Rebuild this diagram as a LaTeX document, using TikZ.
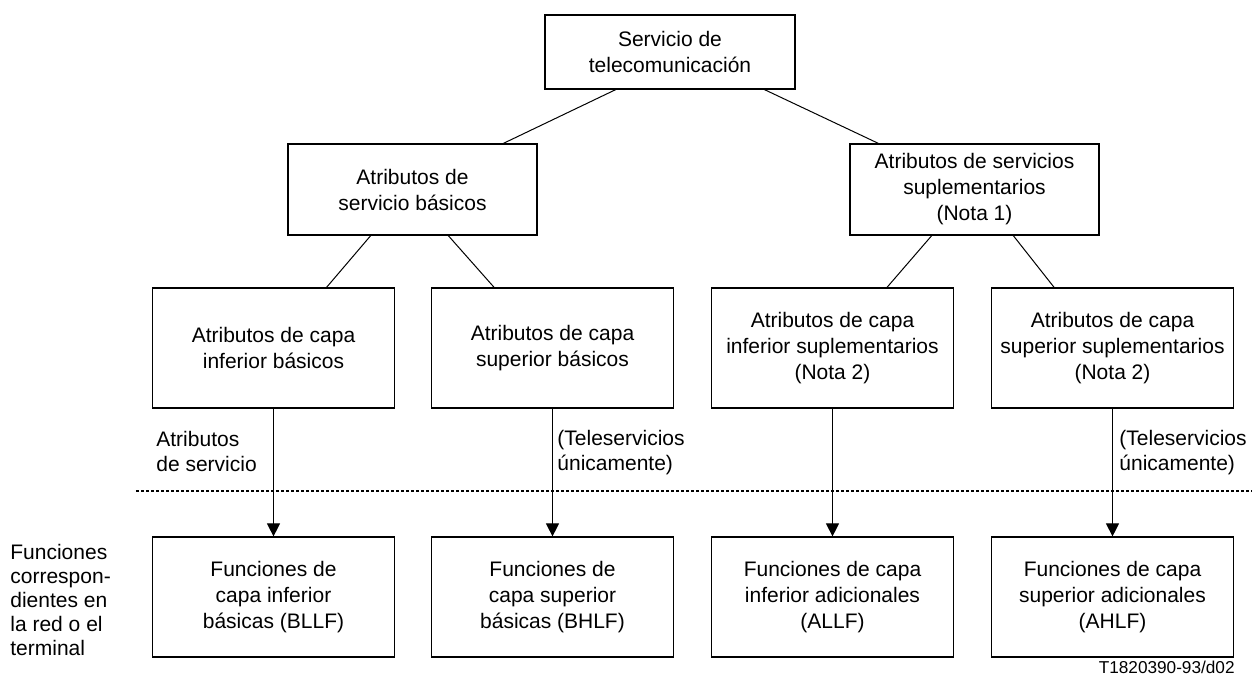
\documentclass[tikz,border=0pt]{standalone}
\usepackage{fontspec}
\setmainfont{Liberation Sans}
\usetikzlibrary{arrows.meta,calc}
\begin{document}
\begin{tikzpicture}[x=0.5pt,y=-0.5pt,
  box/.style={draw,line width=0.6pt,align=center,inner sep=0pt,font=\fontsize{10.5}{13}\selectfont},
  topbox/.style={box,minimum width=125pt,minimum height=37pt},
  midbox/.style={box,minimum width=124.5pt,minimum height=45.5pt},
  rowbox/.style={box,minimum width=121pt,minimum height=60pt},
  conn/.style={line width=0.5pt},
  arr/.style={line width=0.5pt,-{Triangle[length=6.5pt,width=6.5pt]}},
  lbl/.style={align=left,inner sep=0pt,font=\fontsize{10.5}{12.5}\selectfont},
  dotline/.style={line width=1.4pt,dash pattern=on 1.4pt off 1.1pt}]
\useasboundingbox (0,0) rectangle (1258,675);

\node[topbox] (top) at (670,52) {Servicio de\\telecomunicación};
\node[midbox] (ml) at (412.5,189.5) {Atributos de\\servicio básicos};
\node[midbox] (mr) at (974.5,189.5) {Atributos de servicios\\suplementarios\\(Nota 1)};

\node[rowbox] (r1) at (273.5,348) {Atributos de capa\\inferior básicos};
\node[rowbox] (r2) at (552.5,348) {Atributos de capa\\superior básicos};
\node[rowbox] (r3) at (832.5,348) {Atributos de capa\\inferior suplementarios\\(Nota 2)};
\node[rowbox] (r4) at (1112.5,348) {Atributos de capa\\superior suplementarios\\(Nota 2)};

\node[rowbox] (b1) at (273.5,597) {Funciones de\\capa inferior\\básicas (BLLF)};
\node[rowbox] (b2) at (552.5,597) {Funciones de\\capa superior\\básicas (BHLF)};
\node[rowbox] (b3) at (832.5,597) {Funciones de capa\\inferior adicionales\\(ALLF)};
\node[rowbox] (b4) at (1112.5,597) {Funciones de capa\\superior adicionales\\(AHLF)};

\draw[conn] ($(top.south west)!0.284!(top.south east)$) -- ($(ml.north west)!0.863!(ml.north east)$);
\draw[conn] ($(top.south west)!0.876!(top.south east)$) -- ($(mr.north west)!0.116!(mr.north east)$);
\draw[conn] ($(ml.south west)!0.333!(ml.south east)$) -- ($(r1.north west)!0.718!(r1.north east)$);
\draw[conn] ($(ml.south west)!0.643!(ml.south east)$) -- ($(r2.north west)!0.26!(r2.north east)$);
\draw[conn] ($(mr.south west)!0.329!(mr.south east)$) -- ($(r3.north west)!0.724!(r3.north east)$);
\draw[conn] ($(mr.south west)!0.655!(mr.south east)$) -- ($(r4.north west)!0.26!(r4.north east)$);

\draw[arr] (r1.south) -- (b1.north);
\draw[arr] (r2.south) -- (b2.north);
\draw[arr] (r3.south) -- (b3.north);
\draw[arr] (r4.south) -- (b4.north);

\coordinate (dl) at (136,491);
\coordinate (dr) at (1252,491);
\draw[dotline] (dl) -- (dr);

\node[lbl,anchor=west] (la) at (156,451) {Atributos\\de servicio};
\node[lbl,anchor=west] (lb) at (557,453) {(Teleservicios\\únicamente)};
\node[lbl,anchor=west] (lc) at (1119,453) {(Teleservicios\\únicamente)};
\node[lbl,anchor=west,font=\fontsize{10.5}{12}\selectfont] (lf) at (10,600) {Funciones\\correspon-\\dientes en\\la red o el\\terminal};
\node[inner sep=0pt,anchor=east,font=\fontsize{8.6}{10}\selectfont] (code) at (1235,667) {T1820390-93/d02};
\end{tikzpicture}
\end{document}
